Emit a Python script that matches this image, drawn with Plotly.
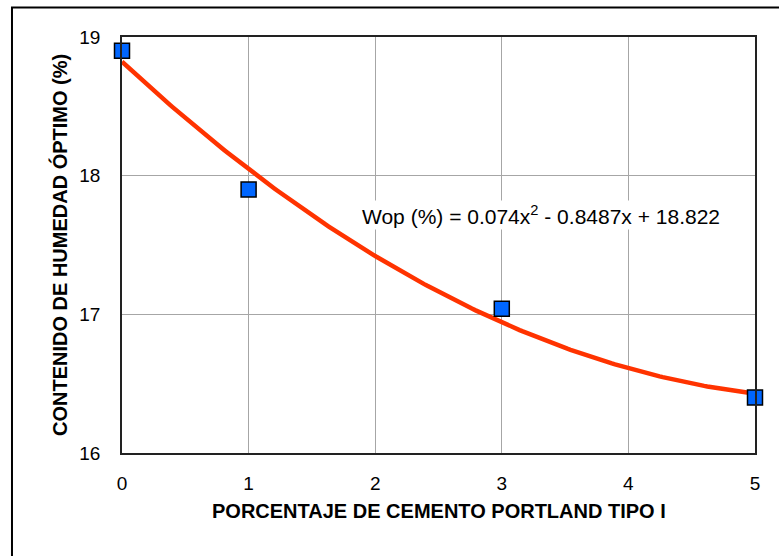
import numpy as np
import plotly.graph_objects as go

x_vals = [0, 1, 3, 5]
y_vals = [18.9, 17.9, 17.04, 16.4]
fit_coef = [0.074, -0.8487, 18.822]  # a, b, c of trendline
x_ticks = [0, 1, 2, 3, 4, 5]
y_ticks = [16, 17, 18, 19]
x_title = "PORCENTAJE DE CEMENTO PORTLAND TIPO I"
y_title = "CONTENIDO DE HUMEDAD ÓPTIMO (%)"
eq_text = "Wop (%) = 0.074x<sup>2</sup> - 0.8487x + 18.822"

xs = np.linspace(0, 5, 200)
ys = fit_coef[0] * xs**2 + fit_coef[1] * xs + fit_coef[2]

fig = go.Figure()
fig.add_trace(go.Scatter(x=xs, y=ys, mode="lines",
                         line=dict(color="#FF3300", width=4.5), hoverinfo="skip"))
fig.add_trace(go.Scatter(x=x_vals, y=y_vals, mode="markers",
                         marker=dict(symbol="square", size=15, color="#0066FF",
                                     line=dict(color="black", width=1.5)),
                         cliponaxis=False))

fig.add_annotation(x=3.31, y=17.716, xref="x", yref="y",
                   text=eq_text, showarrow=False, bgcolor="white",
                   font=dict(family="Liberation Sans, Arial", size=21, color="black"))

fig.add_annotation(x=0.5, y=-0.1406, xref="paper", yref="paper",
                   text="<b>" + x_title + "</b>", showarrow=False,
                   xanchor="center", yanchor="middle",
                   font=dict(family="Liberation Sans, Arial", size=20, color="black"))
fig.add_annotation(x=-0.0995, y=0.5, xref="paper", yref="paper",
                   text="<b>" + y_title + "</b>", showarrow=False, textangle=-90,
                   xanchor="center", yanchor="middle",
                   font=dict(family="Liberation Sans, Arial", size=20, color="black"))

fig.add_shape(type="rect", xref="paper", yref="paper",
              x0=-0.1738, x1=1.3, y0=-0.6, y1=1.0709,
              line=dict(color="black", width=2), layer="below")

fig.update_layout(
    width=779, height=556,
    margin=dict(l=122, r=24, t=37, b=103),
    paper_bgcolor="white", plot_bgcolor="white",
    showlegend=False,
    font=dict(family="Liberation Sans, Arial", size=19, color="black"),
    xaxis=dict(range=[0, 5], tickvals=x_ticks, showgrid=True, gridcolor="#A6A6A6",
               gridwidth=1, showline=True, linecolor="#222222", linewidth=1.5,
               mirror=True, zeroline=False, ticks="", ticklen=0,
               ticklabelstandoff=12),
    yaxis=dict(range=[16, 19], tickvals=y_ticks, showgrid=True, gridcolor="#A6A6A6",
               gridwidth=1, showline=True, linecolor="#222222", linewidth=1.5,
               mirror=True, zeroline=False, ticks="", ticklen=0,
               ticklabelstandoff=16),
)

fig.write_html("out.html")
